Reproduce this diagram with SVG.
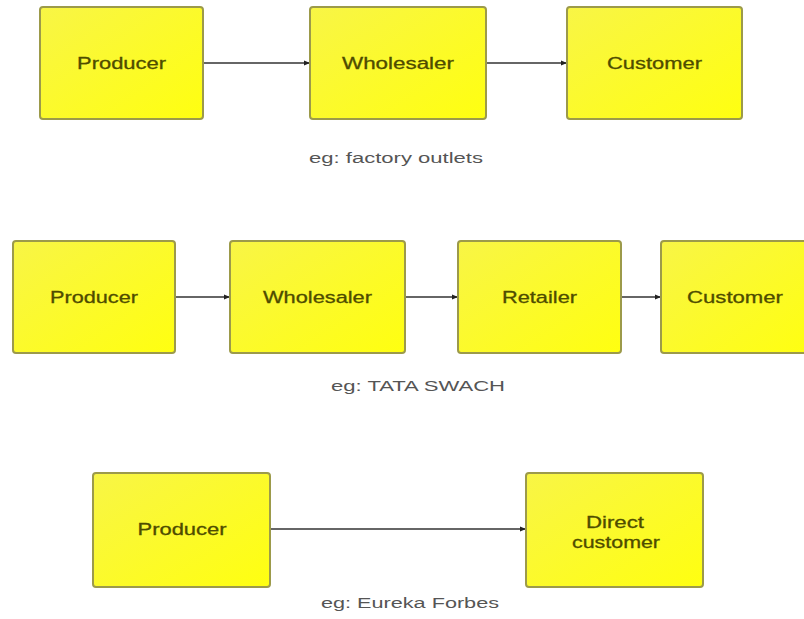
<svg xmlns="http://www.w3.org/2000/svg" width="804" height="619" viewBox="0 0 804 619">
<style>
.box{fill:url(#yg);stroke:#9c9a4a;stroke-width:2}
.lbl{font-family:"Liberation Sans",Arial,sans-serif;font-size:17px;fill:#4e4c00;text-anchor:middle;stroke:#4e4c00;stroke-width:0.3}
.cap{font-family:"Liberation Sans",Arial,sans-serif;font-size:14px;fill:#555;text-anchor:middle}
.con{stroke:#333;stroke-width:1.3;fill:none;marker-end:url(#ah)}
</style>
<defs>
<linearGradient id="yg" x1="0" y1="0" x2="1" y2="1">
<stop offset="0" stop-color="#f8f546"/>
<stop offset="1" stop-color="#ffff10"/>
</linearGradient>
<marker id="ah" viewBox="0 0 10 10" refX="10" refY="5" markerWidth="6" markerHeight="6" markerUnits="userSpaceOnUse" orient="auto">
<path d="M0,1 L10,5 L0,9 z" fill="#222"/>
</marker>
</defs>
<rect width="804" height="619" fill="#fff"/>
<g id="connectors">
<line class="con" x1="203" y1="63" x2="310" y2="63"/>
<line class="con" x1="486" y1="63" x2="567" y2="63"/>
<line class="con" x1="175" y1="297" x2="230" y2="297"/>
<line class="con" x1="405" y1="297" x2="458" y2="297"/>
<line class="con" x1="621" y1="297" x2="661" y2="297"/>
<line class="con" x1="270" y1="529" x2="526" y2="529"/>
</g>
<g id="r1-producer"><rect class="box" x="40" y="7" width="163" height="112" rx="3"/><text class="lbl" x="121.5" y="69" textLength="89" lengthAdjust="spacingAndGlyphs">Producer</text></g>
<g id="r1-wholesaler"><rect class="box" x="310" y="7" width="176" height="112" rx="3"/><text class="lbl" x="398" y="69" textLength="112" lengthAdjust="spacingAndGlyphs">Wholesaler</text></g>
<g id="r1-customer"><rect class="box" x="567" y="7" width="175" height="112" rx="3"/><text class="lbl" x="654.5" y="69" textLength="95" lengthAdjust="spacingAndGlyphs">Customer</text></g>
<text class="cap" x="396" y="163" textLength="174" lengthAdjust="spacingAndGlyphs">eg: factory outlets</text>
<g id="r2-producer"><rect class="box" x="13" y="241" width="162" height="112" rx="3"/><text class="lbl" x="94" y="303" textLength="88" lengthAdjust="spacingAndGlyphs">Producer</text></g>
<g id="r2-wholesaler"><rect class="box" x="230" y="241" width="175" height="112" rx="3"/><text class="lbl" x="317.5" y="303" textLength="109" lengthAdjust="spacingAndGlyphs">Wholesaler</text></g>
<g id="r2-retailer"><rect class="box" x="458" y="241" width="163" height="112" rx="3"/><text class="lbl" x="539.5" y="303" textLength="75" lengthAdjust="spacingAndGlyphs">Retailer</text></g>
<g id="r2-customer"><rect class="box" x="661" y="241" width="150" height="112" rx="3"/><text class="lbl" x="735" y="303" textLength="96" lengthAdjust="spacingAndGlyphs">Customer</text></g>
<text class="cap" x="418" y="391" textLength="174" lengthAdjust="spacingAndGlyphs">eg: TATA SWACH</text>
<g id="r3-producer"><rect class="box" x="93" y="473" width="177" height="114" rx="3"/><text class="lbl" x="182" y="535" textLength="89" lengthAdjust="spacingAndGlyphs">Producer</text></g>
<g id="r3-direct-customer"><rect class="box" x="526" y="473" width="177" height="114" rx="3"/><text class="lbl" x="615" y="528" textLength="58" lengthAdjust="spacingAndGlyphs">Direct</text><text class="lbl" x="616" y="548" textLength="88" lengthAdjust="spacingAndGlyphs">customer</text></g>
<text class="cap" x="410" y="608" textLength="178" lengthAdjust="spacingAndGlyphs">eg: Eureka Forbes</text>
</svg>
